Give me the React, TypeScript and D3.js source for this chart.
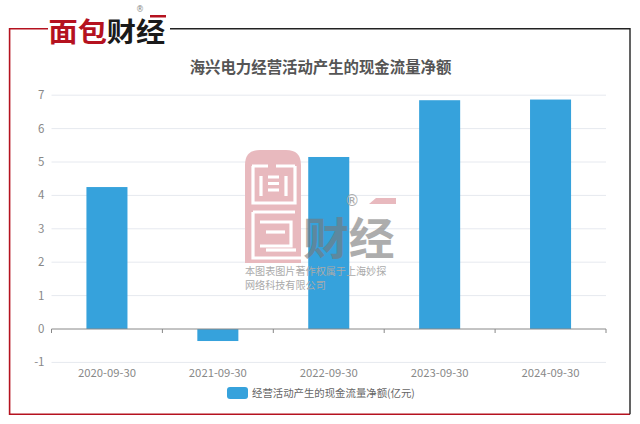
import { scaleBand, scaleLinear } from "d3";

const dates = ["2020-09-30", "2021-09-30", "2022-09-30", "2023-09-30", "2024-09-30"];
const cashFlow = [4.25, -0.36, 5.15, 6.85, 6.87];
const yTicks = [-1, 0, 1, 2, 3, 4, 5, 6, 7];

const TITLE = "海兴电力经营活动产生的现金流量净额";
const LEGEND = "经营活动产生的现金流量净额(亿元)";
const NOTE_1 = "本图表图片著作权属于上海妙探";
const NOTE_2 = "网络科技有限公司";

const width = 640;
const height = 424;
const FONT = "'Noto Sans CJK SC', 'Noto Sans', sans-serif";
const BLUE = "#36a2dc";
const RED = "#b5121f";
const PINK = "#e8b9be";

/* plot bounds */
const MARGIN = { left: 51.5, right: 34, top: 95.2, bottom: 61.6 };

const scaleX = scaleBand<string>()
    .domain(dates)
    .range([MARGIN.left, width - MARGIN.right])
    .paddingInner(0.63)
    .paddingOuter(0.315);

const scaleY = scaleLinear()
    .domain([-1, 7])
    .range([height - MARGIN.bottom, MARGIN.top]);

const step = scaleX.step();
const tickXs = [...dates.map((d, i) => MARGIN.left + i * step), width - MARGIN.right];

/* white cuts that make the big pink watermark glyphs */
const WATERMARK_CUTS = [
    "M252 166H268M276 166H295",
    "M253 166V203H295V166",
    "M261 176V196",
    "M286 176V196",
    "M268 177H279M268 183.5H279M268 190H279",
    "M253 212H295M253 212V258H302",
    "M260 222H291V246H260",
    "M266 232H285",
    "M266 250H296",
];

const Logo = () => (
    <g>
        <g transform="translate(48.5,42) scale(1.08,1)" fontFamily={FONT} fontWeight={700} fontSize={27}>
            <text x={0} y={0} fill={RED}>面包</text>
            <text x={54} y={0} fill="#1a1a1a">财经</text>
        </g>
        <rect x={150} y={15} width={16} height={2.5} fill={RED} />
        <text x={140} y={12} textAnchor="middle" fontFamily="'DejaVu Sans'" fontSize={8} fill="#888">®</text>
    </g>
);

const Watermark = () => (
    <g>
        <path
            d="M245 263V165Q245 150 260 150H286Q301 150 301 165V263Z"
            fill={PINK}
        />
        <g fill="none" stroke="#fff" strokeWidth={3.2}>
            {WATERMARK_CUTS.map((d, i) => <path key={i} d={d} />)}
        </g>
        <g transform="translate(303,255) scale(1.04,1)" fontFamily={FONT} fontWeight={700} fontSize={44} fill="#777" opacity={0.6}>
            <text>财经</text>
        </g>
        <path d="M376 198H396V204H369Z" fill={PINK} />
        <text x={352} y={206} textAnchor="middle" fontFamily="'DejaVu Sans'" fontSize={15} fill="#aaa">®</text>
        <g fontFamily={FONT} fontSize={10.1} fill="#aaa">
            <text x={245} y={274.5}>{NOTE_1}</text>
            <text x={245} y={289}>{NOTE_2}</text>
        </g>
    </g>
);

export default function App() {
    const zeroY = scaleY(0);
    return (
        <svg
            width={width}
            height={height}
            viewBox={`0 0 ${width} ${height}`}
            style={{ position: "absolute", left: 0, top: 0, background: "#fff" }}
        >
            {/* frame */}
            <path d="M48 28.7H9.6V414.2H630" fill="none" stroke={RED} strokeWidth={1.6} />
            <path d="M170 28.7H630V414.2" fill="none" stroke="#222" strokeWidth={1.4} />
            <Logo />

            <text x={320.5} y={73} textAnchor="middle" fontFamily={FONT} fontWeight={700} fontSize={15.4} fill="#555">
                {TITLE}
            </text>

            {/* grid + y labels */}
            {yTicks.map((t) => (
                <g key={t}>
                    {t !== 0 && (
                        <line x1={MARGIN.left} x2={width - MARGIN.right} y1={scaleY(t)} y2={scaleY(t)} stroke="#e6e9ef" strokeWidth={1} />
                    )}
                    <text x={44.5} y={scaleY(t)} dy="0.35em" textAnchor="end" fontFamily={FONT} fontSize={11.5} fill="#888">
                        {t}
                    </text>
                </g>
            ))}

            {/* bars */}
            {dates.map((d, i) => (
                <rect
                    key={d}
                    x={scaleX(d)}
                    y={Math.min(scaleY(cashFlow[i]), zeroY)}
                    width={scaleX.bandwidth()}
                    height={Math.abs(scaleY(cashFlow[i]) - zeroY)}
                    fill={BLUE}
                />
            ))}

            <Watermark />

            {/* x axis */}
            <line x1={MARGIN.left} x2={width - MARGIN.right} y1={zeroY} y2={zeroY} stroke="#888" strokeWidth={1} />
            {tickXs.map((x, i) => (
                <line key={i} x1={x} x2={x} y1={zeroY} y2={zeroY + 4} stroke="#888" strokeWidth={1} />
            ))}
            {dates.map((d) => (
                <text
                    key={d}
                    x={(scaleX(d) as number) + scaleX.bandwidth() / 2}
                    y={376.5}
                    textAnchor="middle"
                    fontFamily={FONT}
                    fontSize={11.3}
                    fill="#888"
                >
                    {d}
                </text>
            ))}

            {/* legend */}
            <rect x={227} y={387} width={21} height={12} rx={3} fill={BLUE} />
            <text x={252} y={397} fontFamily={FONT} fontSize={10.4} fill="#666">{LEGEND}</text>
        </svg>
    );
}
